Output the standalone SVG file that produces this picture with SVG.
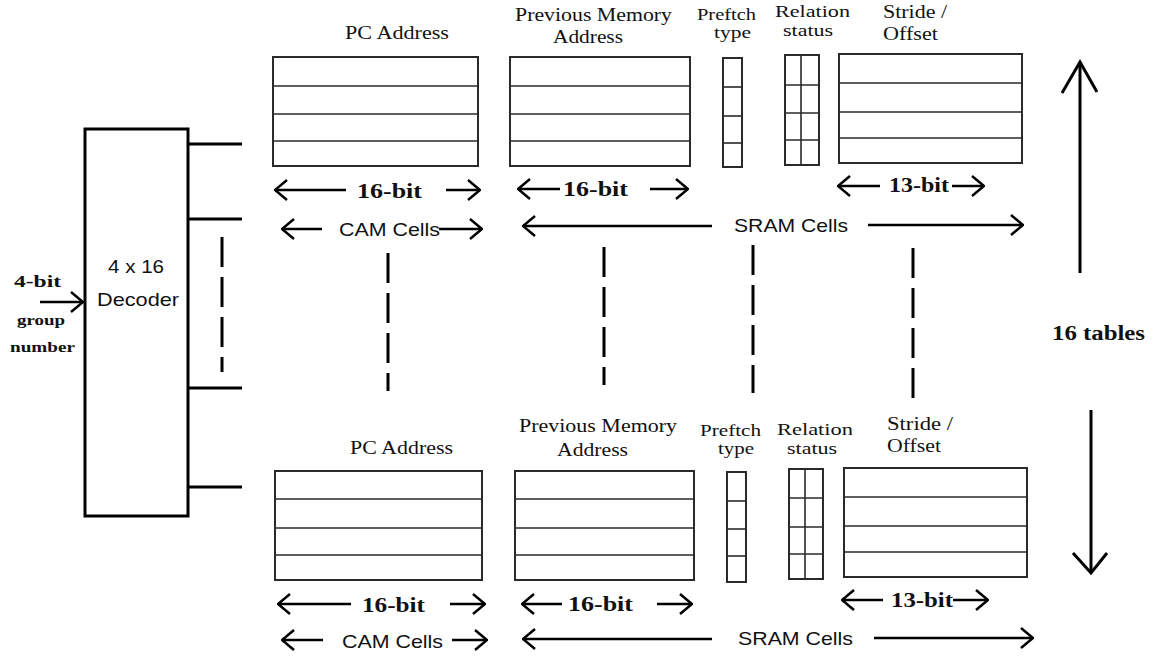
<svg xmlns="http://www.w3.org/2000/svg" width="1155" height="657" viewBox="0 0 1155 657">
<defs>
<style>
.tbl{fill:none;stroke:#2a2a2a;stroke-width:2}
.row{stroke:#2a2a2a;stroke-width:1.6}
.ln{stroke:#000;stroke-width:3;fill:none}
.dash{stroke:#000;stroke-width:3;stroke-dasharray:30 10;fill:none}
.arr{stroke:#000;stroke-width:2.5;fill:none;marker-end:url(#h)}
.arrs{stroke:#000;stroke-width:2.5;fill:none;marker-start:url(#hs)}
.big{stroke:#000;stroke-width:3;fill:none}
.ser{font-family:"Liberation Serif","Times New Roman",serif;font-size:19px;fill:#111}
.sm{font-size:16px}
.serb{font-family:"Liberation Serif","Times New Roman",serif;font-weight:bold;fill:#111}
.sans{font-family:"Liberation Sans",Arial,sans-serif;font-size:18.5px;fill:#111}
</style>
<marker id="h" markerUnits="userSpaceOnUse" viewBox="0 0 14 22" refX="13" refY="11" markerWidth="14" markerHeight="22" orient="auto">
<path d="M1,1 L13,11 L1,21" fill="none" stroke="#000" stroke-width="2.5"/>
</marker>
<marker id="hs" markerUnits="userSpaceOnUse" viewBox="0 0 14 22" refX="1" refY="11" markerWidth="14" markerHeight="22" orient="auto">
<path d="M13,1 L1,11 L13,21" fill="none" stroke="#000" stroke-width="2.5"/>
</marker>
</defs>
<rect width="1155" height="657" fill="#fff"/>

<g id="decoder">
<rect x="85" y="129" width="103" height="387" fill="#fff" stroke="#000" stroke-width="3"/>
<text class="sans" x="108" y="273" textLength="56" lengthAdjust="spacingAndGlyphs">4 x 16</text>
<text class="sans" x="97" y="306" textLength="82" lengthAdjust="spacingAndGlyphs">Decoder</text>
</g>

<g id="input">
<text class="serb" font-size="17" x="14" y="287" textLength="47" lengthAdjust="spacingAndGlyphs">4-bit</text>
<text class="serb" font-size="15" x="17" y="325" textLength="48" lengthAdjust="spacingAndGlyphs">group</text>
<text class="serb" font-size="15" x="10" y="352" textLength="65" lengthAdjust="spacingAndGlyphs">number</text>
</g>

<g id="top-pc">
<text class="ser" x="345" y="39" textLength="104" lengthAdjust="spacingAndGlyphs">PC Address</text>
<rect class="tbl" x="273" y="57" width="205" height="109"/>
<line class="row" x1="273" y1="86" x2="478" y2="86"/>
<line class="row" x1="273" y1="114" x2="478" y2="114"/>
<line class="row" x1="273" y1="141" x2="478" y2="141"/>
</g>
<g id="top-prev">
<text class="ser" x="515" y="21" textLength="157" lengthAdjust="spacingAndGlyphs">Previous Memory</text>
<text class="ser" x="553" y="43" textLength="70" lengthAdjust="spacingAndGlyphs">Address</text>
<rect class="tbl" x="510" y="57" width="180" height="109"/>
<line class="row" x1="510" y1="86" x2="690" y2="86"/>
<line class="row" x1="510" y1="114" x2="690" y2="114"/>
<line class="row" x1="510" y1="141" x2="690" y2="141"/>
</g>
<g id="top-prefetch">
<text class="ser sm" x="697" y="20" textLength="59" lengthAdjust="spacingAndGlyphs">Preftch</text>
<text class="ser sm" x="714" y="38" textLength="37" lengthAdjust="spacingAndGlyphs">type</text>
<rect class="tbl" x="723" y="58" width="19" height="109"/>
<line class="row" x1="723" y1="87" x2="742" y2="87"/>
<line class="row" x1="723" y1="116" x2="742" y2="116"/>
<line class="row" x1="723" y1="143" x2="742" y2="143"/>
</g>
<g id="top-relation">
<text class="ser sm" x="775" y="17" textLength="75" lengthAdjust="spacingAndGlyphs">Relation</text>
<text class="ser sm" x="783" y="36" textLength="50" lengthAdjust="spacingAndGlyphs">status</text>
<rect class="tbl" x="785" y="55" width="34" height="110"/>
<line class="row" x1="801" y1="55" x2="801" y2="166"/>
<line class="row" x1="785" y1="85" x2="819" y2="85"/>
<line class="row" x1="785" y1="113" x2="819" y2="113"/>
<line class="row" x1="785" y1="140" x2="819" y2="140"/>
</g>
<g id="top-stride">
<text class="ser" x="883" y="18" textLength="64" lengthAdjust="spacingAndGlyphs">Stride /</text>
<text class="ser" x="883" y="40" textLength="55" lengthAdjust="spacingAndGlyphs">Offset</text>
<rect class="tbl" x="839" y="54" width="183" height="109"/>
<line class="row" x1="839" y1="83" x2="1022" y2="83"/>
<line class="row" x1="839" y1="112" x2="1022" y2="112"/>
<line class="row" x1="839" y1="138" x2="1022" y2="138"/>
</g>

<g id="bot-pc">
<text class="ser" x="350" y="454" textLength="103" lengthAdjust="spacingAndGlyphs">PC Address</text>
<rect class="tbl" x="275" y="471" width="207" height="109"/>
<line class="row" x1="275" y1="499" x2="482" y2="499"/>
<line class="row" x1="275" y1="528" x2="482" y2="528"/>
<line class="row" x1="275" y1="555" x2="482" y2="555"/>
</g>
<g id="bot-prev">
<text class="ser" x="519" y="432" textLength="158" lengthAdjust="spacingAndGlyphs">Previous Memory</text>
<text class="ser" x="557" y="456" textLength="71" lengthAdjust="spacingAndGlyphs">Address</text>
<rect class="tbl" x="515" y="471" width="179" height="109"/>
<line class="row" x1="515" y1="499" x2="694" y2="499"/>
<line class="row" x1="515" y1="528" x2="694" y2="528"/>
<line class="row" x1="515" y1="555" x2="694" y2="555"/>
</g>
<g id="bot-prefetch">
<text class="ser sm" x="700" y="436" textLength="61" lengthAdjust="spacingAndGlyphs">Preftch</text>
<text class="ser sm" x="718" y="454" textLength="36" lengthAdjust="spacingAndGlyphs">type</text>
<rect class="tbl" x="727" y="472" width="19" height="110"/>
<line class="row" x1="727" y1="501" x2="746" y2="501"/>
<line class="row" x1="727" y1="529" x2="746" y2="529"/>
<line class="row" x1="727" y1="556" x2="746" y2="556"/>
</g>
<g id="bot-relation">
<text class="ser sm" x="777" y="435" textLength="76" lengthAdjust="spacingAndGlyphs">Relation</text>
<text class="ser sm" x="787" y="454" textLength="50" lengthAdjust="spacingAndGlyphs">status</text>
<rect class="tbl" x="789" y="469" width="34" height="110"/>
<line class="row" x1="805" y1="469" x2="805" y2="579"/>
<line class="row" x1="789" y1="498" x2="823" y2="498"/>
<line class="row" x1="789" y1="527" x2="823" y2="527"/>
<line class="row" x1="789" y1="554" x2="823" y2="554"/>
</g>
<g id="bot-stride">
<text class="ser" x="887" y="430" textLength="66" lengthAdjust="spacingAndGlyphs">Stride /</text>
<text class="ser" x="887" y="452" textLength="54" lengthAdjust="spacingAndGlyphs">Offset</text>
<rect class="tbl" x="844" y="468" width="183" height="109"/>
<line class="row" x1="844" y1="497" x2="1027" y2="497"/>
<line class="row" x1="844" y1="526" x2="1027" y2="526"/>
<line class="row" x1="844" y1="552" x2="1027" y2="552"/>
</g>

<g id="labels">
<text class="serb" font-size="21" x="357" y="198" textLength="65" lengthAdjust="spacingAndGlyphs">16-bit</text>
<text class="serb" font-size="21" x="563" y="196" textLength="65" lengthAdjust="spacingAndGlyphs">16-bit</text>
<text class="serb" font-size="21" x="889" y="192" textLength="60" lengthAdjust="spacingAndGlyphs">13-bit</text>
<text class="sans" x="339" y="236" textLength="101" lengthAdjust="spacingAndGlyphs">CAM Cells</text>
<text class="sans" x="734" y="232" textLength="114" lengthAdjust="spacingAndGlyphs">SRAM Cells</text>
<text class="serb" font-size="21" x="362" y="612" textLength="63" lengthAdjust="spacingAndGlyphs">16-bit</text>
<text class="serb" font-size="21" x="568" y="611" textLength="65" lengthAdjust="spacingAndGlyphs">16-bit</text>
<text class="serb" font-size="21" x="891" y="607" textLength="62" lengthAdjust="spacingAndGlyphs">13-bit</text>
<text class="sans" x="342" y="648" textLength="101" lengthAdjust="spacingAndGlyphs">CAM Cells</text>
<text class="sans" x="738" y="645" textLength="115" lengthAdjust="spacingAndGlyphs">SRAM Cells</text>
<text class="serb" font-size="20" x="1052" y="340" textLength="93" lengthAdjust="spacingAndGlyphs">16 tables</text>
</g>

<g id="connectors">
<line class="ln" x1="188" y1="144" x2="242" y2="144"/>
<line class="ln" x1="188" y1="219" x2="242" y2="219"/>
<line class="ln" x1="188" y1="388" x2="242" y2="388"/>
<line class="ln" x1="188" y1="487" x2="242" y2="487"/>
<line class="dash" x1="222" y1="237" x2="222" y2="372"/>
<line class="arr" x1="40" y1="302" x2="83" y2="302"/>

<line class="dash" x1="388" y1="253" x2="388" y2="391"/>
<line class="dash" x1="604" y1="247" x2="604" y2="385"/>
<line class="dash" x1="753" y1="245" x2="753" y2="393"/>
<line class="dash" x1="913" y1="248" x2="913" y2="400"/>

<line class="arrs" x1="275" y1="190" x2="346" y2="190"/>
<line class="arr" x1="446" y1="190" x2="480" y2="190"/>
<line class="arrs" x1="518" y1="189" x2="560" y2="189"/>
<line class="arr" x1="650" y1="189" x2="688" y2="189"/>
<line class="arrs" x1="838" y1="186" x2="880" y2="186"/>
<line class="arr" x1="952" y1="186" x2="984" y2="186"/>
<line class="arrs" x1="282" y1="229" x2="322" y2="229"/>
<line class="arr" x1="439" y1="229" x2="482" y2="229"/>
<line class="arrs" x1="523" y1="226" x2="712" y2="226"/>
<line class="arr" x1="868" y1="225" x2="1023" y2="225"/>

<line class="arrs" x1="278" y1="604" x2="351" y2="604"/>
<line class="arr" x1="450" y1="604" x2="485" y2="604"/>
<line class="arrs" x1="522" y1="604" x2="562" y2="604"/>
<line class="arr" x1="657" y1="604" x2="692" y2="604"/>
<line class="arrs" x1="842" y1="600" x2="883" y2="600"/>
<line class="arr" x1="953" y1="600" x2="988" y2="600"/>
<line class="arrs" x1="282" y1="640" x2="323" y2="640"/>
<line class="arr" x1="452" y1="640" x2="487" y2="640"/>
<line class="arrs" x1="523" y1="639" x2="712" y2="639"/>
<line class="arr" x1="874" y1="638" x2="1033" y2="638"/>

<line class="big" x1="1080" y1="62" x2="1080" y2="273"/>
<path class="big" d="M1062,93 L1080,62 L1097,92"/>
<line class="big" x1="1091" y1="410" x2="1091" y2="573"/>
<path class="big" d="M1073,553 L1091,573 L1107,553"/>
</g>
</svg>
